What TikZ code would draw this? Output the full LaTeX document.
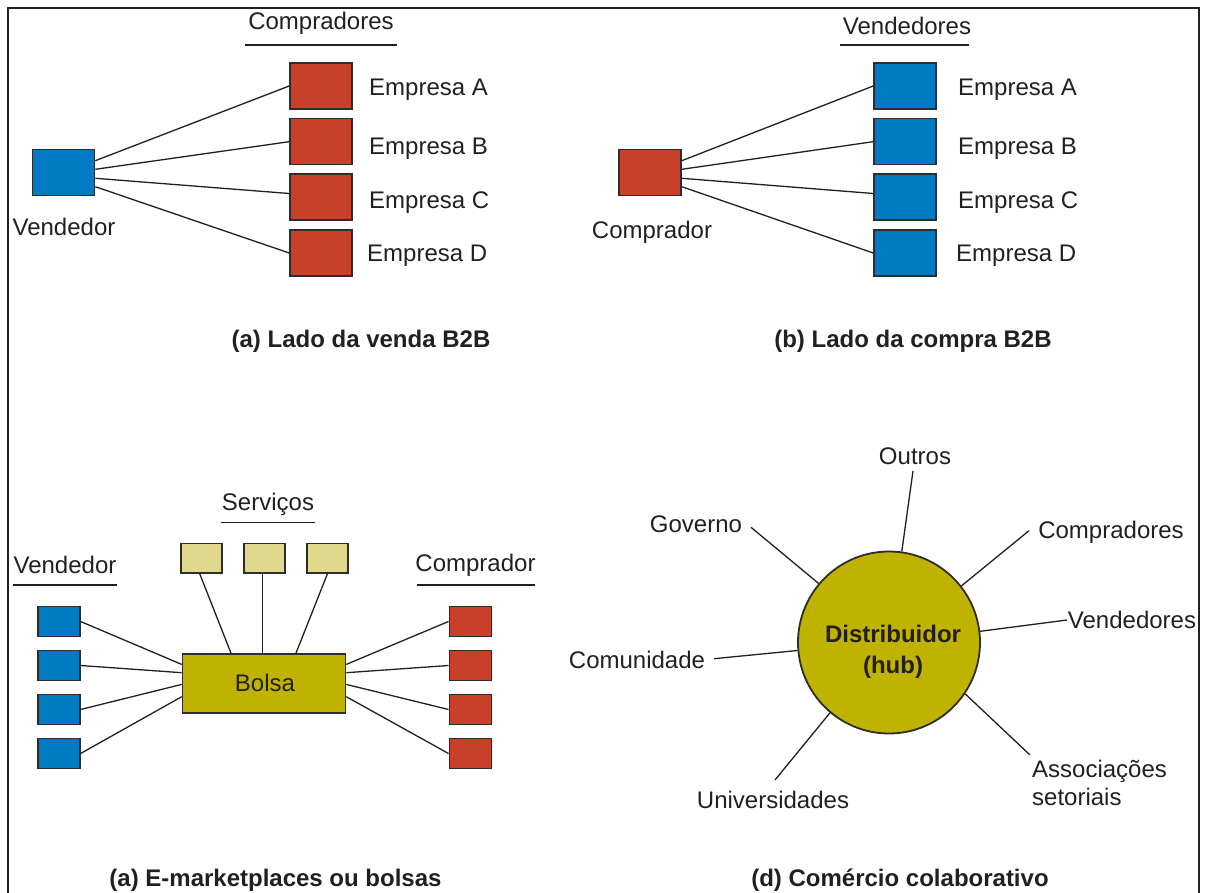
\documentclass[tikz,border=0pt]{standalone}
\usepackage{fontspec}
\setmainfont{Liberation Sans}
\definecolor{sellblue}{RGB}{0,122,194}
\definecolor{buyred}{RGB}{201,64,42}
\definecolor{hubolive}{RGB}{192,179,0}
\definecolor{svckhaki}{RGB}{224,216,140}
\definecolor{ink}{RGB}{35,31,32}
\definecolor{edge}{RGB}{45,45,45}
\begin{document}
\begin{tikzpicture}[x=1pt,y=-1pt,
  txt/.style={font=\fontsize{24}{29}\selectfont, text=ink, inner sep=0pt, text height=17.2pt, text depth=0pt},
  caption/.style={txt, font=\fontsize{24}{29}\selectfont\bfseries},
  box/.style={draw=edge, line width=1.6pt, inner sep=0pt},
  bigbox/.style={box, minimum width=62pt, minimum height=46pt},
  smallbox/.style={box, minimum width=42pt, minimum height=30pt},
  link/.style={draw=ink, line width=1.3pt},
  rule/.style={draw=ink, line width=1.3pt},
]
\useasboundingbox (0,0) rectangle (1205,893);
% outer frame (open at the bottom)
\draw[ink, line width=2.4pt] (8,893) -- (8,8) -- (1199,8) -- (1199,893);

% ---------- (a) sell side ----------
\node[bigbox, fill=sellblue] (va) at (63.5,172.7) {};
\node[txt] (va-l) at (64,226.7) {Vendedor};
\node[txt] (ca-h) at (321,20.7) {Compradores};
\draw[rule] (245,45) -- (397,45);
\foreach \k/\y in {A/86,B/141.7,C/197,D/253}
  \node[bigbox, fill=buyred] (a\k) at (321,\y) {};
\node[txt, anchor=west] (aA-l) at (369,86.7) {Empresa A};
\node[txt, anchor=west] (aB-l) at (369,145.7) {Empresa B};
\node[txt, anchor=west] (aC-l) at (369,200) {Empresa C};
\node[txt, anchor=west] (aD-l) at (367,253.3) {Empresa D};
\draw[link] ([yshift=12pt]va.east) -- (aA.west);
\draw[link] ([yshift=3.4pt]va.east) -- (aB.west);
\draw[link] ([yshift=-5.6pt]va.east) -- ([yshift=3.5pt]aC.west);
\draw[link] ([yshift=-14pt]va.east) -- (aD.west);
\node[caption] (cap-a) at (361,339) {(a) Lado da venda B2B};

% ---------- (b) buy side ----------
\node[bigbox, fill=buyred] (cb) at (650,172.7) {};
\node[txt] (cb-l) at (652,230) {Comprador};
\node[txt] (vb-h) at (907,25.5) {Vendedores};
\draw[rule] (840,45) -- (968.5,45);
\foreach \k/\y in {A/86,B/141.7,C/197,D/253}
  \node[bigbox, fill=sellblue] (b\k) at (905,\y) {};
\node[txt, anchor=west] (bA-l) at (958,86.7) {Empresa A};
\node[txt, anchor=west] (bB-l) at (958,145.7) {Empresa B};
\node[txt, anchor=west] (bC-l) at (958,200) {Empresa C};
\node[txt, anchor=west] (bD-l) at (956,253.3) {Empresa D};
\draw[link] ([yshift=12pt]cb.east) -- (bA.west);
\draw[link] ([yshift=3.4pt]cb.east) -- (bB.west);
\draw[link] ([yshift=-5.6pt]cb.east) -- ([yshift=3.5pt]bC.west);
\draw[link] ([yshift=-14pt]cb.east) -- (bD.west);
\node[caption] (cap-b) at (913,339) {(b) Lado da compra B2B};

% ---------- (c) e-marketplace ----------
\node[box, fill=hubolive, minimum width=163pt, minimum height=59pt] (bolsa) at (264,683.4) {};
\node[txt] (bolsa-l) at (265,683.3) {Bolsa};
\node[txt] (svc-h) at (268,501.7) {Serviços};
\draw[rule] (221,522.3) -- (315,522.3);
\node[smallbox, fill=svckhaki, minimum width=41pt, minimum height=29.5pt] (s1) at (201.5,558.4) {};
\node[smallbox, fill=svckhaki, minimum width=41pt, minimum height=29.5pt] (s2) at (264.3,558.4) {};
\node[smallbox, fill=svckhaki, minimum width=41pt, minimum height=29.5pt] (s3) at (327.4,558.4) {};
\draw[link] ([xshift=-1.7pt]s1.south) -- ([xshift=-33pt]bolsa.north);
\draw[link] ([xshift=-1.8pt]s2.south) -- ([xshift=-1.5pt]bolsa.north);
\draw[link] (s3.south) -- ([xshift=32pt]bolsa.north);
\node[txt] (vc-h) at (65,565) {Vendedor};
\draw[rule] (13.4,585) -- (117,585);
\node[txt] (cc-h) at (475.5,563) {Comprador};
\draw[rule] (417,585) -- (534.6,585);
\foreach \i/\y in {1/621.5,2/665.5,3/709.5,4/753.5}{
  \node[smallbox, fill=sellblue] (v\i) at (58.8,\y) {};
  \node[smallbox, fill=buyred] (c\i) at (470.3,\y) {};
}
\foreach \i/\s in {1/19,2/10.7,3/-1,4/-13.3}{
  \draw[link] (v\i.east) -- ([yshift=\s pt]bolsa.west);
  \draw[link] ([yshift=\s pt]bolsa.east) -- (c\i.west);
}
\node[caption] (cap-c) at (275.5,877.7) {(a) E-marketplaces ou bolsas};

% ---------- (d) collaborative commerce ----------
\node[circle, draw=edge, line width=1.8pt, fill=hubolive, minimum size=182pt, inner sep=0pt] (hub) at (889,642.5) {};
\node[font=\fontsize{24}{30.7}\selectfont\bfseries, text=ink, inner sep=0pt, align=center, anchor=base] (hub-l) at (893,673.6) {Distribuidor\\(hub)};
\node[txt] (outros) at (915,456) {Outros};
\node[txt] (governo) at (696,524) {Governo};
\node[txt] (compr) at (1111,530) {Compradores};
\node[txt] (vend) at (1132,620) {Vendedores};
\node[txt] (comun) at (637,660) {Comunidade};
\node[txt] (univ) at (773,800) {Universidades};
\node[font=\fontsize{24}{28.3}\selectfont, text=ink, inner sep=0pt, align=left, anchor=base west] (assoc) at (1032,805.9) {Associações\\setoriais};
\coordinate (outros-e) at (913,471);
\coordinate (governo-e) at (751,527.3);
\coordinate (compr-e) at (1029,530.7);
\coordinate (vend-e) at (1067,620);
\coordinate (comun-e) at (714,658.7);
\coordinate (univ-e) at (775,780);
\coordinate (assoc-e) at (1030,755);
\draw[link] (outros-e) -- (hub.82);
\draw[link] (governo-e) -- (hub.140.6);
\draw[link] (compr-e) -- (hub.38);
\draw[link] (vend-e) -- (hub.7);
\draw[link] (comun-e) -- (hub.185);
\draw[link] (univ-e) -- (hub.230);
\draw[link] (assoc-e) -- (hub.-34.4);
\node[caption] (cap-d) at (900,878) {(d) Comércio colaborativo};
\end{tikzpicture}
\end{document}
